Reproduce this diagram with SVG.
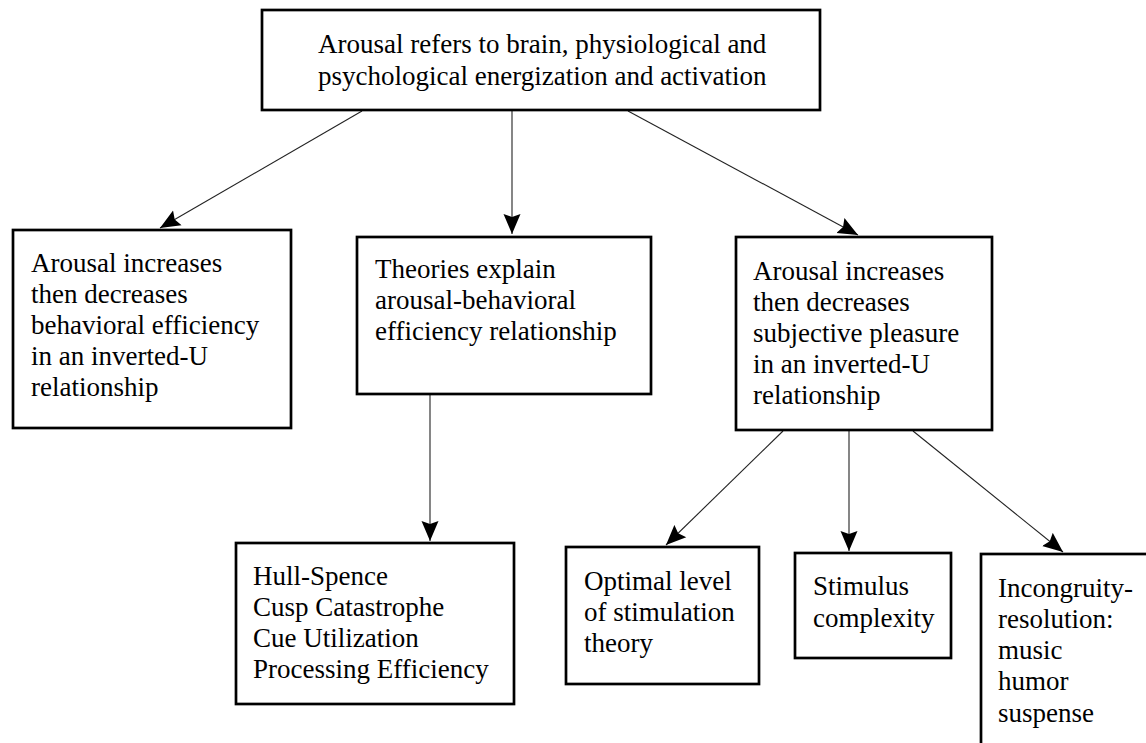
<svg xmlns="http://www.w3.org/2000/svg" width="1146" height="743" viewBox="0 0 1146 743">
  <style>
    .box { fill: #ffffff; stroke: #000000; stroke-width: 2.7; }
    .lbl { font-family: "Liberation Serif", "Times New Roman", serif; font-size: 27px; fill: #000000; }
    .edge { stroke: #222222; stroke-width: 1.1; fill: none; marker-end: url(#arrow); }
  </style>
  <defs>
    <!-- filled arrowhead with a shallow notch at the back -->
    <marker id="arrow" markerUnits="userSpaceOnUse" markerWidth="21" markerHeight="18" refX="20" refY="9" orient="auto">
      <path d="M0,0.5 L20,9 L0,17.5 L3,9 z" fill="#000000"/>
    </marker>
  </defs>
  <rect width="1146" height="743" fill="#ffffff"/>

  <!-- connectors -->
  <g id="connectors">
    <line class="edge" x1="362" y1="111" x2="160" y2="228"/>
    <line class="edge" x1="512" y1="111" x2="512" y2="234"/>
    <line class="edge" x1="628" y1="111" x2="858" y2="235"/>
    <line class="edge" x1="430" y1="395" x2="430" y2="541"/>
    <line class="edge" x1="783" y1="431" x2="666" y2="545"/>
    <line class="edge" x1="849" y1="431" x2="849" y2="551"/>
    <line class="edge" x1="913" y1="431" x2="1063" y2="552"/>
  </g>

  <!-- root -->
  <g id="node-arousal">
    <rect class="box" x="262" y="10" width="558" height="100"/>
    <text class="lbl" x="318" y="53">Arousal refers to brain, physiological and</text>
    <text class="lbl" x="318" y="85">psychological energization and activation</text>
  </g>

  <g id="node-efficiency">
    <rect class="box" x="13" y="230" width="278" height="198"/>
    <text class="lbl" x="31" y="272">Arousal increases</text>
    <text class="lbl" x="31" y="303">then decreases</text>
    <text class="lbl" x="31" y="334">behavioral efficiency</text>
    <text class="lbl" x="31" y="365">in an inverted-U</text>
    <text class="lbl" x="31" y="396">relationship</text>
  </g>

  <g id="node-theories">
    <rect class="box" x="357" y="237" width="294" height="157"/>
    <text class="lbl" x="375" y="278">Theories explain</text>
    <text class="lbl" x="375" y="309">arousal-behavioral</text>
    <text class="lbl" x="375" y="340">efficiency relationship</text>
  </g>

  <g id="node-pleasure">
    <rect class="box" x="736" y="237" width="256" height="193"/>
    <text class="lbl" x="753" y="280">Arousal increases</text>
    <text class="lbl" x="753" y="311">then decreases</text>
    <text class="lbl" x="753" y="342">subjective pleasure</text>
    <text class="lbl" x="753" y="373">in an inverted-U</text>
    <text class="lbl" x="753" y="404">relationship</text>
  </g>

  <g id="node-theory-list">
    <rect class="box" x="236" y="543" width="278" height="161"/>
    <text class="lbl" x="253" y="585">Hull-Spence</text>
    <text class="lbl" x="253" y="616">Cusp Catastrophe</text>
    <text class="lbl" x="253" y="647">Cue Utilization</text>
    <text class="lbl" x="253" y="678">Processing Efficiency</text>
  </g>

  <g id="node-optimal">
    <rect class="box" x="566" y="547" width="193" height="137"/>
    <text class="lbl" x="584" y="590">Optimal level</text>
    <text class="lbl" x="584" y="621">of stimulation</text>
    <text class="lbl" x="584" y="652">theory</text>
  </g>

  <g id="node-stimulus">
    <rect class="box" x="795" y="553" width="156" height="105"/>
    <text class="lbl" x="813" y="595">Stimulus</text>
    <text class="lbl" x="813" y="627">complexity</text>
  </g>

  <g id="node-incongruity">
    <rect class="box" x="981" y="554" width="175" height="200"/>
    <text class="lbl" x="998" y="597">Incongruity-</text>
    <text class="lbl" x="998" y="628">resolution:</text>
    <text class="lbl" x="998" y="659">music</text>
    <text class="lbl" x="998" y="690">humor</text>
    <text class="lbl" x="998" y="722">suspense</text>
  </g>
</svg>
